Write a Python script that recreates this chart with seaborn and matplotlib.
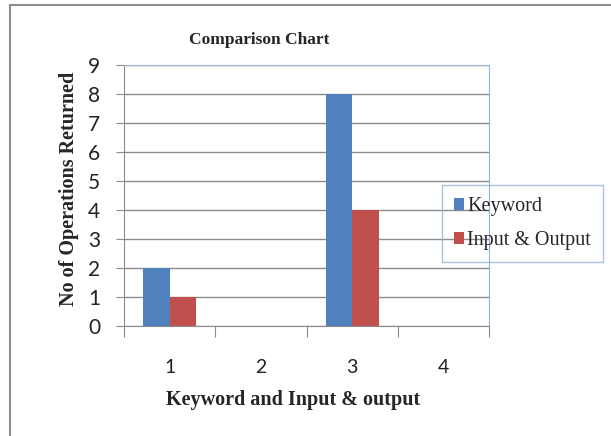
import pandas as pd
import numpy as np
import matplotlib
matplotlib.use("Agg")
import matplotlib.pyplot as plt
import seaborn as sns
from matplotlib.patches import Rectangle
from matplotlib.ticker import FixedLocator

# chart data
categories = ["1", "2", "3", "4"]
keyword = [2, 0, 8, 0]
input_output = [1, 0, 4, 0]

df = pd.DataFrame({
    "cat": categories * 2,
    "value": keyword + input_output,
    "series": ["Keyword"] * 4 + ["Input & Output"] * 4,
})

sns.set_style("white")
serif = ["Liberation Serif", "DejaVu Serif"]
sans = ["Lato", "DejaVu Sans"]

fig = plt.figure(figsize=(6.11, 4.36), dpi=100)
ax = fig.add_axes([124 / 611, 1 - 326 / 436, (489 - 124) / 611, (326 - 65) / 436])

sns.barplot(data=df, x="cat", y="value", hue="series", order=categories,
            palette=["#4F81BD", "#C0504D"], width=0.58, saturation=1,
            linewidth=0, ax=ax, legend=True)

ax.set_ylim(0, 9)
ax.set_xlim(-0.5, 3.5)
ax.set_yticks(range(0, 10))
ax.yaxis.grid(True, color="#8c8c8c", linewidth=1)
ax.set_axisbelow(True)

# category boundary ticks as majors, labels on minors
ax.xaxis.set_major_locator(FixedLocator(np.arange(-0.5, 4, 1)))
ax.xaxis.set_minor_locator(FixedLocator(range(4)))
ax.set_xticklabels([], minor=False)
ax.set_xticklabels(categories, minor=True, fontsize=14, family=sans, color="#222222")
ax.tick_params(axis="x", which="major", length=8, color="#8c8c8c", direction="out", bottom=True)
ax.tick_params(axis="x", which="minor", length=0, pad=24)
ax.tick_params(axis="y", length=6, color="#8c8c8c", direction="out", left=True, labelsize=15, pad=11)
for lab in ax.get_yticklabels():
    lab.set_family(sans)
    lab.set_color("#222222")

for s in ["left", "bottom"]:
    ax.spines[s].set_color("#8c8c8c")
for s in ["top", "right"]:
    ax.spines[s].set_color("#95B3D7")

ax.set_xlabel("")
ax.set_ylabel("")
fig.text(69 / 611, 1 - 189 / 436, "No of Operations Returned", rotation=90, ha="center",
         va="center", fontsize=14.5, fontweight="bold", family=serif)
fig.text(293 / 611, 1 - 400 / 436, "Keyword and Input & output", ha="center", va="center",
         fontsize=14.5, fontweight="bold", family=serif)
fig.text(259 / 611, 1 - 40 / 436, "Comparison Chart", ha="center", va="center",
         fontsize=12.5, fontweight="bold", family=serif)

leg = ax.legend(loc="upper left", bbox_to_anchor=(442 / 611, 1 - 185 / 436),
                bbox_transform=fig.transFigure, frameon=True, fancybox=False,
                prop={"family": serif, "size": 14.5}, handlelength=0.5, handleheight=0.5,
                handletextpad=0.15, labelspacing=0.75, borderpad=0.6, borderaxespad=0)
leg.get_frame().set_edgecolor("#95B3D7")
leg.get_frame().set_facecolor("none")
leg.get_frame().set_linewidth(1)

# outer chart frame
fig.patches.append(Rectangle((10 / 611, -0.05), 1.1, 1 - 5 / 436 + 0.05,
                             transform=fig.transFigure, fill=False,
                             edgecolor="#8c8c8c", linewidth=1.5))

fig.savefig("out.png", dpi=100)
